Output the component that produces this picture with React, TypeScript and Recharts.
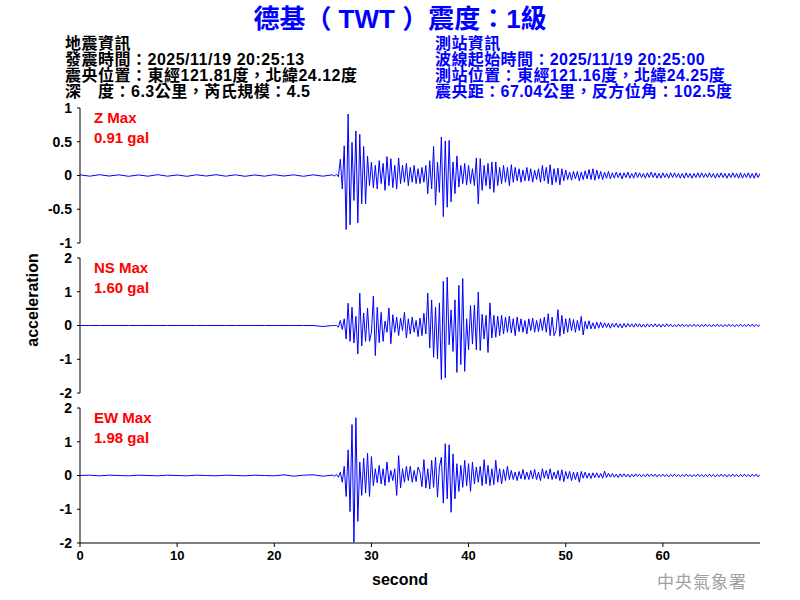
import { LineChart, Line, XAxis, YAxis } from 'recharts';

const FONT = '"Liberation Sans", Arial, "Noto Sans CJK TC", sans-serif';
const BLUE = '#0000FF';

// quiet part before the P arrival: one value per second (t = 0..25)
const QUIET_STEP = 1;
// active part: one value every 0.2 s from t = 26.0 to t = 70.0
const ACTIVE_START = 26;
const ACTIVE_STEP = 0.2;

const zQuiet = [0.01, -0.01, 0.012, -0.008, 0.01, -0.012, 0.008, -0.01, 0.012, -0.01, 0.008, -0.012, 0.01,
  -0.008, 0.012, -0.01, 0.01, -0.012, 0.008, -0.01, 0.012, -0.008, 0.01, -0.012, 0.01, -0.01];
const zActive = [
  0.01, -0.01, 0.02, -0.02, 0.24, // 26
  -0.2, 0.44, -0.8, 0.91, -0.73, // 27
  0.49, -0.37, 0.66, -0.7, 0.61, // 28
  -0.42, 0.43, -0.42, 0.29, -0.15, // 29
  0.2, -0.18, 0.15, -0.2, 0.22, // 30
  -0.12, 0.18, -0.22, 0.28, -0.15, // 31
  0.25, -0.18, 0.15, -0.2, 0.26, // 32
  -0.12, 0.15, -0.1, 0.18, -0.15, // 33
  0.12, -0.1, 0.15, -0.12, 0.1, // 34
  -0.12, 0.12, -0.1, 0.15, -0.27, // 35
  0.22, -0.2, 0.43, -0.44, 0.2, // 36
  -0.25, 0.57, -0.61, 0.51, -0.47, // 37
  0.52, -0.39, 0.2, -0.27, 0.29, // 38
  -0.17, 0.15, -0.12, 0.18, -0.14, // 39
  0.15, -0.12, 0.1, -0.15, 0.26, // 40
  -0.42, 0.25, -0.22, 0.15, -0.15, // 41
  0.18, -0.2, 0.2, -0.25, 0.2, // 42
  -0.15, 0.12, -0.12, 0.15, -0.1, // 43
  0.12, -0.15, 0.16, -0.1, 0.12, // 44
  -0.08, 0.1, -0.1, 0.08, -0.08, // 45
  0.12, -0.08, 0.1, -0.1, 0.08, // 46
  -0.06, 0.1, -0.1, 0.15, -0.08, // 47
  0.12, -0.12, 0.16, -0.14, 0.1, // 48
  -0.1, 0.11, -0.14, 0.1, -0.08, // 49
  0.08, -0.06, 0.05, -0.07, 0.06, // 50
  -0.05, 0.06, -0.08, 0.05, -0.06, // 51
  0.07, -0.05, 0.09, -0.06, 0.1, // 52
  -0.07, 0.08, -0.05, 0.06, -0.06, // 53
  0.05, -0.04, 0.06, -0.05, 0.04, // 54
  -0.04, 0.05, -0.03, 0.04, -0.05, // 55
  0.04, -0.03, 0.05, -0.04, 0.03, // 56
  -0.04, 0.05, -0.03, 0.04, -0.03, // 57
  0.03, -0.04, 0.04, -0.03, 0.05, // 58
  -0.03, 0.04, -0.04, 0.03, -0.04, // 59
  0.04, -0.03, 0.03, -0.04, 0.04, // 60
  -0.03, 0.04, -0.03, 0.03, -0.04, // 61
  0.03, -0.04, 0.04, -0.03, 0.03, // 62
  -0.04, 0.03, -0.03, 0.04, -0.03, // 63
  0.04, -0.03, 0.03, -0.03, 0.04, // 64
  -0.03, 0.03, -0.04, 0.03, -0.03, // 65
  0.04, -0.03, 0.03, -0.04, 0.03, // 66
  -0.03, 0.04, -0.03, 0.03, -0.04, // 67
  0.04, -0.04, 0.03, -0.03, 0.04, // 68
  -0.04, 0.03, -0.04, 0.04, -0.03, // 69
  0.03, // 70
];

const nsQuiet = [0, 0, 0, 0, 0, 0, 0, 0, 0, 0, 0, 0, 0, 0, 0, 0, 0, 0, 0, 0, 0, 0, 0, 0, 0, -0.03];
const nsActive = [
  0, 0, 0, -0.05, 0.15, // 26
  -0.12, 0.2, -0.4, 0.66, -0.47, // 27
  0.54, -0.52, 0.27, -0.84, 0.96, // 28
  -0.61, 0.37, -0.47, 0.52, -0.47, // 29
  -0.2, 0.87, -0.89, 0.54, -0.51, // 30
  0.39, -0.47, 0.13, -0.2, 0.52, // 31
  -0.54, 0.32, -0.2, 0.25, -0.3, // 32
  0.22, -0.15, 0.39, -0.37, 0.2, // 33
  -0.25, 0.25, -0.2, 0.15, -0.33, // 34
  0.22, -0.3, 0.36, -0.25, 0.96, // 35
  -0.67, 0.76, -0.94, 0.54, -0.99, // 36
  0.67, -1.6, 1.31, -1.55, 1.43, // 37
  -0.57, 0.46, -0.77, 0.76, -1.39, // 38
  1.19, -1.16, 1.39, -1.36, 0.2, // 39
  -0.72, 0.59, -0.55, 0.61, -0.72, // 40
  0.99, -0.74, 0.33, -0.4, 0.3, // 41
  -0.8, 0.67, -0.37, 0.3, -0.35, // 42
  0.28, -0.3, 0.3, -0.25, 0.25, // 43
  -0.2, 0.28, -0.22, 0.2, -0.3, // 44
  0.25, -0.18, 0.2, -0.2, 0.15, // 45
  -0.25, 0.2, -0.15, 0.22, -0.2, // 46
  0.15, -0.18, 0.2, -0.15, 0.25, // 47
  -0.2, 0.35, -0.3, 0.25, -0.3, // 48
  -0.15, 0.47, -0.32, 0.3, -0.25, // 49
  0.2, -0.2, 0.22, -0.15, 0.18, // 50
  -0.2, 0.15, -0.15, 0.27, -0.28, // 51
  0.12, -0.1, 0.14, -0.1, 0.08, // 52
  -0.1, 0.1, -0.08, 0.1, -0.07, // 53
  0.08, -0.06, 0.07, -0.08, 0.06, // 54
  -0.05, 0.07, -0.06, 0.05, -0.07, // 55
  0.06, -0.05, 0.06, -0.04, 0.05, // 56
  -0.05, 0.06, -0.04, 0.05, -0.05, // 57
  0.04, -0.05, 0.05, -0.04, 0.04, // 58
  -0.04, 0.05, -0.04, 0.04, -0.05, // 59
  0.04, -0.04, 0.05, -0.03, 0.04, // 60
  -0.04, 0.03, -0.04, 0.04, -0.03, // 61
  0.04, -0.03, 0.03, -0.04, 0.03, // 62
  -0.03, 0.04, -0.03, 0.03, -0.04, // 63
  0.03, -0.03, 0.04, -0.03, 0.03, // 64
  -0.04, 0.03, -0.03, 0.04, -0.03, // 65
  0.03, -0.04, 0.03, -0.03, 0.04, // 66
  -0.03, 0.03, -0.04, 0.03, -0.03, // 67
  0.04, -0.03, 0.03, -0.03, 0.04, // 68
  -0.03, 0.04, -0.03, 0.03, -0.03, // 69
  0.02, // 70
];

const ewQuiet = [0, 0.01, -0.01, 0.01, 0, -0.01, 0.01, 0, -0.01, 0.01, 0, -0.01, 0.01, 0, -0.01, 0.01, 0,
  -0.01, 0.01, 0, -0.01, 0.02, -0.02, 0.01, 0.02, -0.02];
const ewActive = [
  0.01, -0.02, 0.03, -0.05, 0.1, // 26
  -0.2, 0.27, -0.62, 0.76, -1.07, // 27
  1.51, -1.98, 1.71, -1.36, 0.4, // 28
  -0.59, 0.51, -0.52, 0.66, -0.62, // 29
  0.56, -0.3, 0.2, -0.22, 0.3, // 30
  -0.25, 0.2, -0.3, 0.4, -0.2, // 31
  0.15, -0.15, 0.2, -0.59, 0.59, // 32
  -0.37, 0.2, -0.2, 0.27, -0.15, // 33
  0.27, -0.2, 0.15, -0.18, 0.25, // 34
  0.1, -0.33, 0.47, -0.37, 0.2, // 35
  -0.4, 0.45, -0.35, 0.54, -0.64, // 36
  0.25, 0.54, -0.82, 0.94, -0.69, // 37
  0.91, -1.09, 0.64, -0.69, 0.35, // 38
  -0.47, 0.3, -0.35, 0.45, -0.3, // 39
  0.35, -0.47, 0.4, -0.25, 0.25, // 40
  -0.2, 0.27, -0.3, 0.47, -0.25, // 41
  0.3, -0.3, 0.2, -0.27, 0.45, // 42
  -0.2, 0.2, -0.25, 0.18, -0.15, // 43
  0.27, -0.12, 0.15, -0.12, 0.1, // 44
  -0.15, 0.12, -0.1, 0.18, -0.12, // 45
  0.1, -0.12, 0.15, -0.1, 0.18, // 46
  -0.12, 0.1, -0.15, 0.2, -0.08, // 47
  0.15, -0.1, 0.2, -0.12, 0.1, // 48
  -0.1, 0.15, -0.15, 0.17, -0.18, // 49
  0.12, -0.1, 0.12, -0.15, 0.1, // 50
  -0.12, 0.1, -0.2, 0.12, -0.08, // 51
  0.1, -0.08, 0.07, -0.09, 0.08, // 52
  -0.06, 0.08, -0.07, 0.06, -0.08, // 53
  0.13, -0.06, 0.07, -0.05, 0.06, // 54
  -0.05, 0.04, -0.06, 0.05, -0.04, // 55
  0.05, -0.04, 0.04, -0.05, 0.04, // 56
  -0.04, 0.05, -0.03, 0.04, -0.04, // 57
  0.03, -0.04, 0.05, -0.03, 0.04, // 58
  -0.03, 0.04, -0.04, 0.03, -0.03, // 59
  0.04, -0.03, 0.03, -0.04, 0.03, // 60
  -0.03, 0.04, -0.03, 0.03, -0.04, // 61
  0.03, -0.03, 0.04, -0.03, 0.03, // 62
  -0.04, 0.03, -0.03, 0.04, -0.03, // 63
  0.03, -0.04, 0.03, -0.03, 0.04, // 64
  -0.03, 0.03, -0.04, 0.03, -0.03, // 65
  0.04, -0.03, 0.03, -0.04, 0.03, // 66
  -0.03, 0.04, -0.03, 0.03, -0.04, // 67
  0.03, -0.03, 0.04, -0.03, 0.03, // 68
  -0.04, 0.04, -0.03, 0.04, -0.04, // 69
  0.03, // 70
];

const xTicks = [0, 10, 20, 30, 40, 50, 60];
const zTicks = [-1, -0.5, 0, 0.5, 1];
const hTicks = [-2, -1, 0, 1, 2];

const panelNames = ['Z', 'NS', 'EW'];
const panelPeaks = ['0.91', '1.60', '1.98'];

const title = '德基（ TWT ）震度：1級';
const leftInfo = [
  '地震資訊',
  '發震時間：2025/11/19 20:25:13',
  '震央位置：東經121.81度，北緯24.12度',
  '深　度：6.3公里，芮氏規模：4.5',
];
const rightInfo = [
  '測站資訊',
  '波線起始時間：2025/11/19 20:25:00',
  '測站位置：東經121.16度，北緯24.25度',
  '震央距：67.04公里，反方位角：102.5度',
];

function series(quiet: number[], active: number[]) {
  return [
    ...quiet.map((v, i) => ({ t: i * QUIET_STEP, v })),
    ...active.map((v, i) => ({ t: +(ACTIVE_START + i * ACTIVE_STEP).toFixed(1), v })),
  ];
}

const panels = [
  { data: series(zQuiet, zActive), ticks: zTicks, domain: [-1, 1], plotTop: 108 },
  { data: series(nsQuiet, nsActive), ticks: hTicks, domain: [-2, 2], plotTop: 258 },
  { data: series(ewQuiet, ewActive), ticks: hTicks, domain: [-2, 2], plotTop: 408 },
];

const xTickStyle = { fill: '#000', fontSize: 13, fontWeight: 'bold', fontFamily: FONT };
const yTickStyle = { fill: '#000', fontSize: 14, fontWeight: 'bold', fontFamily: FONT };

function Panel({ data, ticks, domain, plotTop, showX }: any) {
  const height = showX ? 215 : 175;
  return (
    <div style={{ position: 'absolute', left: 0, top: plotTop - 20 }}>
      <LineChart
        width={800}
        height={height}
        data={data}
        margin={{ top: 20, right: 40, bottom: showX ? 30 : 20, left: 0 }}
      >
        <XAxis
          type="number"
          dataKey="t"
          domain={[0, 70]}
          ticks={xTicks}
          hide={!showX}
          height={30}
          allowDataOverflow
          axisLine={{ stroke: '#000' }}
          tickLine={{ stroke: '#000' }}
          tickSize={4}
          tickMargin={4}
          tick={xTickStyle}
        />
        <YAxis
          type="number"
          domain={domain}
          ticks={ticks}
          interval={0}
          width={80}
          allowDataOverflow
          axisLine={{ stroke: '#000' }}
          tickLine={{ stroke: '#000' }}
          tickSize={3}
          tickMargin={5}
          tick={yTickStyle}
        />
        <Line
          type="linear"
          dataKey="v"
          stroke={BLUE}
          strokeWidth={1}
          dot={false}
          isAnimationActive={false}
        />
      </LineChart>
    </div>
  );
}

export default function App() {
  return (
    <div style={{ position: 'absolute', left: 0, top: 0, width: 800, height: 600, background: '#fff' }}>
      {panels.map((p, i) => (
        <Panel key={i} {...p} showX={i === panels.length - 1} />
      ))}
      <svg
        width={800}
        height={600}
        style={{ position: 'absolute', left: 0, top: 0, pointerEvents: 'none' }}
        fontFamily={FONT}
      >
        <text x={400} y={28} textAnchor="middle" fontSize={26} fontWeight="bold" fill={BLUE}>
          {title}
        </text>
        {leftInfo.map((s, i) => (
          <text key={'l' + i} x={65} y={48.5 + i * 16.1} fontSize={16} fontWeight="bold" letterSpacing={0.5} fill="#000">
            {s}
          </text>
        ))}
        {rightInfo.map((s, i) => (
          <text key={'r' + i} x={435} y={48.5 + i * 16.1} fontSize={16} fontWeight="bold" letterSpacing={0.4} fill={BLUE}>
            {s}
          </text>
        ))}
        {panels.map((p, i) => (
          <g key={'p' + i} fill="#FF0000" fontSize={15} fontWeight="bold">
            <text x={94} y={p.plotTop + 15}>{panelNames[i]} Max</text>
            <text x={94} y={p.plotTop + 35}>{panelPeaks[i]} gal</text>
          </g>
        ))}
        <text
          x={38}
          y={300}
          transform="rotate(-90 38 300)"
          textAnchor="middle"
          fontSize={16}
          fontWeight="bold"
          fill="#000"
        >
          acceleration
        </text>
        <text x={400} y={585} textAnchor="middle" fontSize={16} fontWeight="bold" fill="#000">
          second
        </text>
        <text x={657} y={588} fontSize={17} letterSpacing={1} fill="#A0A0A0">
          中央氣象署
        </text>
      </svg>
    </div>
  );
}
